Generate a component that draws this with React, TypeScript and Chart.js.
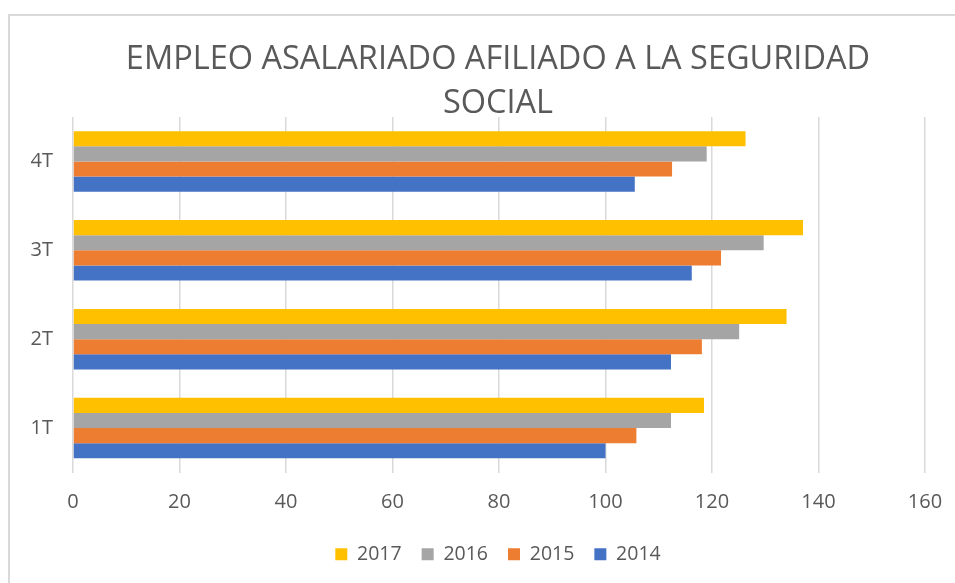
import React, { useEffect, useRef } from "react";
import { Chart, registerables } from "chart.js";

Chart.register(...registerables);

const categories = ["1T", "2T", "3T", "4T"];
const years = ["2017", "2016", "2015", "2014"];
const values2017 = [118.5, 134.0, 137.1, 126.3];
const values2016 = [112.3, 125.1, 129.7, 119.0];
const values2015 = [105.8, 118.1, 121.7, 112.5];
const values2014 = [100.0, 112.3, 116.2, 105.5];
const colors = ["#FFC000", "#A5A5A5", "#ED7D31", "#4472C4"];
const titleLines = ["EMPLEO ASALARIADO AFILIADO A LA SEGURIDAD", "SOCIAL"];
const xMin = 0;
const xMax = 160;
const xStep = 20;

export default function App() {
  const ref = useRef<HTMLCanvasElement | null>(null);

  useEffect(() => {
    document.body.style.margin = "0";
    document.body.style.overflow = "hidden";
    const series = [values2017, values2016, values2015, values2014];
    const chart = new Chart(ref.current as HTMLCanvasElement, {
      type: "bar",
      data: {
        labels: categories,
        datasets: years.map((y, i) => ({
          label: y,
          data: series[i],
          backgroundColor: colors[i],
          borderWidth: 0,
          categoryPercentage: 0.68,
          barPercentage: 1,
        })),
      },
      options: {
        indexAxis: "y",
        animation: false,
        responsive: false,
        maintainAspectRatio: false,
        layout: { padding: { left: 0, right: 0, top: 0, bottom: 12 } },
        plugins: {
          tooltip: { enabled: false },
          title: {
            display: true,
            text: titleLines,
            color: "#595959",
            font: { family: "'Open Sans', sans-serif", size: 32.5, weight: "normal", lineHeight: 1.354 },
            padding: { top: 22, bottom: -9 },
          },
          legend: {
            position: "bottom",
            labels: {
              color: "#595959",
              boxWidth: 12,
              boxHeight: 12,
              padding: 20,
              font: { family: "'Open Sans', sans-serif", size: 19.5 },
            },
          },
        },
        scales: {
          x: {
            min: xMin,
            max: xMax,
            ticks: {
              stepSize: xStep,
              color: "#595959",
              padding: 18,
              font: { family: "'Open Sans', sans-serif", size: 20 },
            },
            grid: { color: "#D9D9D9", lineWidth: 1.5, drawTicks: false },
            border: { display: false },
            afterFit: (scale: any) => {
              scale.height = scale.height - 8;
            },
          },
          y: {
            reverse: true,
            ticks: {
              color: "#595959",
              padding: 20,
              font: { family: "'Open Sans', sans-serif", size: 20 },
            },
            grid: { display: false, drawTicks: false },
            border: { display: false },
            afterFit: (scale: any) => {
              scale.width = 63;
            },
          },
          yRight: {
            type: "category",
            position: "right",
            labels: categories,
            ticks: { display: false },
            grid: { display: false, drawTicks: false },
            border: { display: false },
            afterFit: (scale: any) => {
              scale.width = 61;
            },
          },
        },
      },
    });
    return () => chart.destroy();
  }, []);

  return (
    <div
      style={{
        position: "absolute",
        left: 8,
        top: 14,
        width: 978,
        height: 620,
        borderLeft: "2px solid #D9D9D9",
        borderTop: "2px solid #D9D9D9",
        background: "#fff",
      }}
    >
      <canvas ref={ref} width={976} height={570} style={{ display: "block" }} />
    </div>
  );
}
